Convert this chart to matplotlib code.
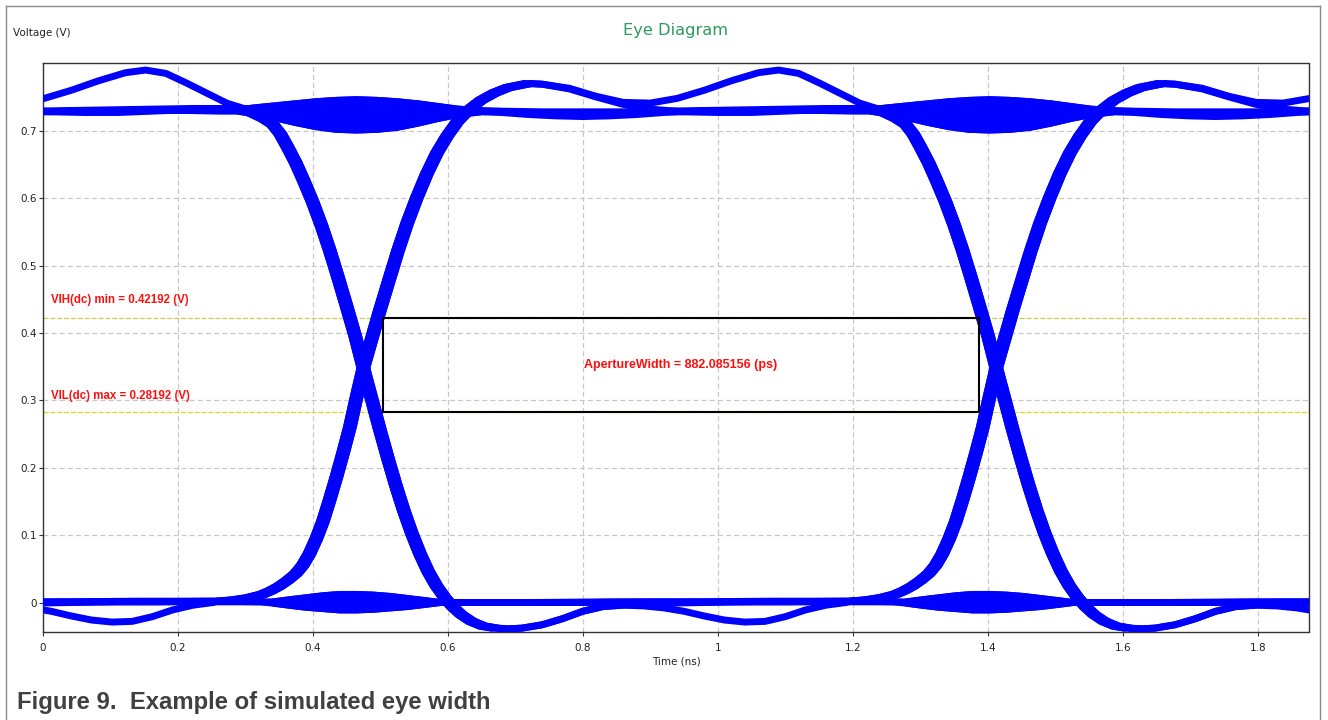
import numpy as np
import matplotlib.pyplot as plt
from matplotlib.patches import Rectangle
from matplotlib.lines import Line2D

# eye window is 2 UI wide
ui = 0.9375        # ns
t_cross = 0.475    # first crossing, ns
edge_jitter = [-0.005, 0.005]   # spread of the edges round the crossing, ns

vih_min = 0.42192
vil_max = 0.28192
aperture_start = 0.5045
aperture_ps = 882.085156

x_ticks = [0, 0.2, 0.4, 0.6, 0.8, 1.0, 1.2, 1.4, 1.6, 1.8]
y_ticks = [0, 0.1, 0.2, 0.3, 0.4, 0.5, 0.6, 0.7]

# edges, time relative to the crossing (ns) -> volts
rise_dt = [-0.212, -0.19, -0.17, -0.15, -0.138, -0.125, -0.112, -0.1, -0.09, -0.08, -0.07,
           -0.06, -0.05, -0.04, -0.03, -0.02, -0.01, 0.0, 0.012, 0.024, 0.037, 0.051, 0.065,
           0.079, 0.094, 0.109, 0.124, 0.139, 0.156, 0.174, 0.194, 0.214, 0.244]
rise_v = [0.002, 0.004, 0.007, 0.012, 0.017, 0.024, 0.033, 0.043, 0.055, 0.072, 0.094,
          0.12, 0.152, 0.186, 0.222, 0.26, 0.305, 0.348, 0.39, 0.432, 0.475, 0.521, 0.563,
          0.60, 0.636, 0.667, 0.692, 0.713, 0.731, 0.745, 0.756, 0.764, 0.770]
fall_dt = [-0.182, -0.165, -0.148, -0.134, -0.123, -0.113, -0.1, -0.088, -0.075, -0.062,
           -0.05, -0.038, -0.025, -0.012, 0.0, 0.012, 0.024, 0.036, 0.048, 0.06, 0.072,
           0.084, 0.096, 0.108, 0.12, 0.132, 0.145, 0.16, 0.177, 0.195]
fall_v = [0.733, 0.726, 0.718, 0.709, 0.695, 0.677, 0.652, 0.625, 0.594, 0.559,
          0.523, 0.484, 0.44, 0.395, 0.348, 0.303, 0.258, 0.215, 0.174, 0.136, 0.102,
          0.072, 0.046, 0.025, 0.008, -0.006, -0.018, -0.028, -0.035, -0.038]

# ringing of the levels round a crossing when the bit does not change
lens_hi_dt = [-0.186, -0.16, -0.13, -0.10, -0.07, -0.04, -0.01, 0.02, 0.05, 0.08, 0.11, 0.14, 0.174]
lens_hi_top = [0.731, 0.734, 0.737, 0.740, 0.743, 0.745, 0.746, 0.745, 0.743, 0.740, 0.736, 0.732, 0.730]
lens_hi_bot = [0.729, 0.725, 0.719, 0.712, 0.706, 0.702, 0.701, 0.702, 0.705, 0.711, 0.718, 0.724, 0.728]
lens_lo_dt = [-0.133, -0.11, -0.085, -0.06, -0.035, -0.01, 0.015, 0.04, 0.065, 0.09, 0.114]
lens_lo_top = [0.001, 0.004, 0.007, 0.010, 0.012, 0.012, 0.011, 0.009, 0.006, 0.003, 0.0]
lens_lo_bot = [-0.001, -0.004, -0.007, -0.009, -0.011, -0.011, -0.010, -0.008, -0.006, -0.003, 0.0]

# middle of the bit between the two crossings (absolute ns)
hi_010_t = [0.74, 0.78, 0.82, 0.86, 0.90, 0.94, 0.98, 1.02, 1.06, 1.09, 1.12, 1.15, 1.18, 1.21]
hi_010_v = [0.769, 0.763, 0.751, 0.742, 0.741, 0.748, 0.760, 0.774, 0.786, 0.790, 0.785, 0.771, 0.756, 0.741]
hi_011_t = [0.74, 0.78, 0.82, 0.86, 0.90, 0.95, 1.0, 1.05, 1.10, 1.15, 1.2]
hi_011_v = [0.769, 0.762, 0.750, 0.739, 0.732, 0.728, 0.727, 0.727, 0.729, 0.731, 0.732]
hi_flat_t = [0.68, 0.74, 0.80, 0.86, 0.92, 0.98, 1.04, 1.10, 1.16, 1.21]
hi_flat_v = [0.729, 0.728, 0.728, 0.728, 0.729, 0.730, 0.731, 0.732, 0.733, 0.733]
hi_dip_t = [0.68, 0.72, 0.76, 0.80, 0.84, 0.88, 0.92, 0.97, 1.03, 1.09, 1.15, 1.20]
hi_dip_v = [0.727, 0.724, 0.722, 0.721, 0.722, 0.724, 0.727, 0.729, 0.730, 0.730, 0.730, 0.729]
lo_101_t = [0.69, 0.71, 0.74, 0.77, 0.80, 0.83, 0.86, 0.89, 0.92, 0.95, 0.98, 1.01, 1.04,
            1.07, 1.10, 1.13, 1.16, 1.19]
lo_101_v = [-0.039, -0.038, -0.033, -0.024, -0.013, -0.006, -0.004, -0.005, -0.008, -0.013,
            -0.020, -0.026, -0.029, -0.028, -0.021, -0.011, -0.004, 0.0]
lo_100_t = [0.69, 0.71, 0.74, 0.77, 0.80, 0.83, 0.87, 0.92, 0.98, 1.05, 1.12, 1.19, 1.25]
lo_100_v = [-0.039, -0.038, -0.033, -0.024, -0.013, -0.006, -0.003, -0.001, 0.0, 0.001, 0.001, 0.001, 0.001]
lo_flat_t = [0.62, 0.70, 0.80, 0.90, 1.00, 1.10, 1.18]
lo_flat_v = [0.0, 0.0, 0.0, 0.001, 0.001, 0.001, 0.002]
lo_flat2_t = [0.62, 0.72, 0.84, 0.96, 1.08, 1.2, 1.26]
lo_flat2_v = [0.0, 0.0, 0.001, 0.001, 0.002, 0.002, 0.001]

c0 = t_cross
c1 = t_cross + ui
early, late = edge_jitter


def at(dt, c):
    return np.asarray(dt) + c


def trace(*parts):
    t = np.concatenate([p[0] for p in parts])
    v = np.concatenate([p[1] for p in parts])
    return t, v


traces = [
    trace((at(rise_dt, c0 + early), rise_v), (hi_010_t, hi_010_v), (at(fall_dt, c1 + late), fall_v)),
    trace((at(rise_dt, c0 + late), rise_v), (hi_011_t, hi_011_v), (at(lens_hi_dt, c1), lens_hi_top)),
    trace((at(lens_hi_dt, c0), lens_hi_top), (hi_flat_t, hi_flat_v), (at(fall_dt, c1 + early), fall_v)),
    trace((at(lens_hi_dt, c0), lens_hi_bot), (hi_dip_t, hi_dip_v), (at(lens_hi_dt, c1), lens_hi_bot)),
    trace((at(fall_dt, c0 + early), fall_v), (lo_101_t, lo_101_v), (at(rise_dt, c1 + early), rise_v)),
    trace((at(fall_dt, c0 + late), fall_v), (lo_100_t, lo_100_v), (at(lens_lo_dt, c1), lens_lo_top)),
    trace((at(lens_lo_dt, c0), lens_lo_bot), (lo_flat_t, lo_flat_v), (at(rise_dt, c1 + late), rise_v)),
    trace((at(lens_lo_dt, c0), lens_lo_top), (lo_flat2_t, lo_flat2_v), (at(lens_lo_dt, c1), lens_lo_bot)),
]

W, H = 1328, 720
fig = plt.figure(figsize=(W / 100, H / 100), dpi=100)
ax = fig.add_axes([42.7 / W, 1 - 631.5 / H, 1265.8 / W, 568.2 / H])

blue = '#0000ff'
for shift in (-ui, 0.0, ui):
    for t, v in traces:
        ax.plot(t + shift, v, color=blue, lw=5, solid_joinstyle='round',
                solid_capstyle='round', zorder=3)
    for c in (c0, c1):
        ax.fill_between(at(lens_hi_dt, c) + shift, lens_hi_bot, lens_hi_top,
                        color=blue, lw=0, zorder=3)
        ax.fill_between(at(lens_lo_dt, c) + shift, lens_lo_bot, lens_lo_top,
                        color=blue, lw=0, zorder=3)

ax.axhline(vih_min, color='#cccc55', lw=0.9, ls=(0, (4, 1.5)), zorder=2)
ax.axhline(vil_max, color='#d8d820', lw=0.9, ls=(0, (4, 1.5)), zorder=2)

ap_w = aperture_ps / 1000.0
ax.add_patch(Rectangle((aperture_start, vil_max), ap_w, vih_min - vil_max,
                       fill=False, edgecolor='black', lw=1.5, zorder=4))

red_font = dict(color='#ff1010', family='Liberation Sans', weight='bold', zorder=5)
ax.text(0.0118, 0.449, 'VIH(dc) min = %.5f (V)' % vih_min, fontsize=8.3,
        va='center', ha='left', **red_font)
ax.text(0.0118, 0.3064, 'VIL(dc) max = %.5f (V)' % vil_max, fontsize=8.3,
        va='center', ha='left', **red_font)
ax.text(aperture_start + ap_w / 2, (vih_min + vil_max) / 2,
        'ApertureWidth = %.6f (ps)' % aperture_ps, fontsize=9,
        va='center', ha='center', **red_font)

ax.set_xlim(0, 2 * ui)
ax.set_ylim(-0.043, 0.80)
ax.set_xticks(x_ticks)
ax.set_yticks(y_ticks)
ax.xaxis.set_major_formatter(plt.FormatStrFormatter('%g'))
ax.yaxis.set_major_formatter(plt.FormatStrFormatter('%g'))
ax.tick_params(labelsize=7.5, length=3, width=0.8, color='#333333',
               labelcolor='#222222')
ax.tick_params(axis='x', pad=5)
ax.tick_params(axis='y', pad=1.5)
ax.grid(True, color='#c8c8c8', ls=(0, (4, 2.5)), lw=0.9)
ax.set_axisbelow(True)
for s in ax.spines.values():
    s.set_color('#333333')
    s.set_linewidth(1.0)

fig.text(13 / W, 1 - 33 / H, 'Voltage (V)', fontsize=7.5, color='#222222',
         va='center', ha='left')
fig.text(676 / W, 1 - 31 / H, 'Eye Diagram', fontsize=11.7, color='#2e9a5e',
         va='center', ha='center')
fig.text(676 / W, 1 - 661 / H, 'Time (ns)', fontsize=7.5, color='#222222',
         va='center', ha='center')
fig.text(17 / W, 1 - 703 / H, 'Figure 9.  Example of simulated eye width',
         fontsize=17.2, color='#404040', weight='bold', family='Liberation Sans',
         va='center', ha='left')

# page frame round the screenshot
frame = dict(color='#888888', lw=1.0, transform=fig.transFigure)
fig.add_artist(Line2D([5.5 / W, 1319.5 / W], [1 - 5.5 / H, 1 - 5.5 / H], **frame))
fig.add_artist(Line2D([5.5 / W, 5.5 / W], [1 - 5.5 / H, 0], **frame))
fig.add_artist(Line2D([1319.5 / W, 1319.5 / W], [1 - 5.5 / H, 0], **frame))

fig.savefig('out.png', dpi=100)
